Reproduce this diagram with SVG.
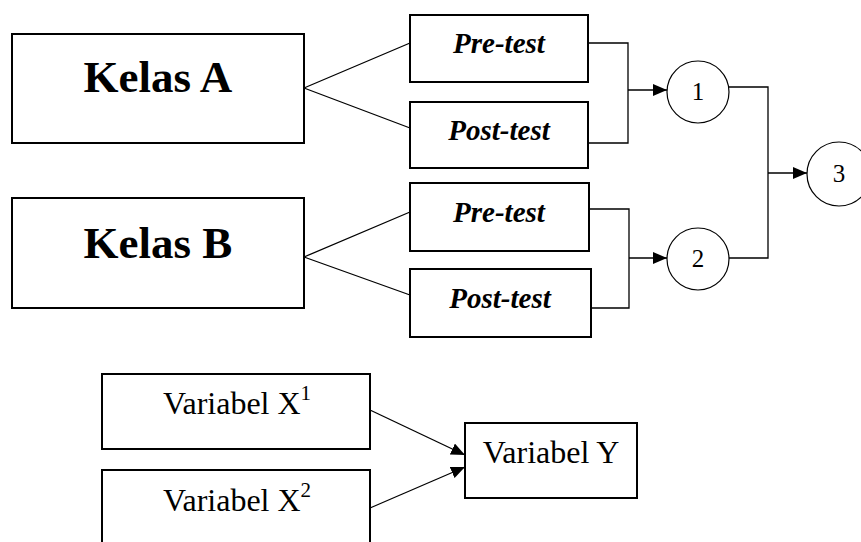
<svg xmlns="http://www.w3.org/2000/svg" width="861" height="542" viewBox="0 0 861 542">
<style>
.box{fill:#fff;stroke:#000;stroke-width:2}
.circ{fill:#fff;stroke:#000;stroke-width:1.2}
.ln{fill:none;stroke:#000;stroke-width:1.3}
.big{font-family:"Liberation Serif","Times New Roman",serif;font-weight:bold;font-size:45px;text-anchor:middle}
.bi{font-family:"Liberation Serif","Times New Roman",serif;font-weight:bold;font-style:italic;font-size:29px;text-anchor:middle}
.reg{font-family:"Liberation Serif","Times New Roman",serif;font-size:32px;text-anchor:middle}
.num{font-family:"Liberation Serif","Times New Roman",serif;font-size:25px;text-anchor:middle}
</style>
<defs>
<marker id="arr" markerWidth="14" markerHeight="12" refX="14" refY="6" orient="auto" markerUnits="userSpaceOnUse">
<path d="M0,0 L14,6 L0,12 Z" fill="#000"/>
</marker>
</defs>
<g id="connectors">
<path class="ln" d="M304,88 L410,43 M304,88 L410,128"/>
<path class="ln" d="M304,257 L410,212 M304,257 L410,295"/>
<path class="ln" d="M588,43 H628 V143 H588"/>
<path class="ln" d="M628,90 H667" marker-end="url(#arr)"/>
<path class="ln" d="M589,209 H629 V308 H591"/>
<path class="ln" d="M629,258 H667" marker-end="url(#arr)"/>
<path class="ln" d="M729,87 H768 V258 H729"/>
<path class="ln" d="M768,173 H807" marker-end="url(#arr)"/>
<path class="ln" d="M370,410 L465,455" marker-end="url(#arr)"/>
<path class="ln" d="M370,508 L465,467" marker-end="url(#arr)"/>
</g>
<g id="kelasA"><rect class="box" x="12" y="34" width="292" height="109"/><text class="big" x="158" y="92">Kelas A</text></g>
<g id="kelasB"><rect class="box" x="12" y="198" width="292" height="110"/><text class="big" x="158" y="258">Kelas B</text></g>
<g id="preA"><rect class="box" x="410" y="15" width="178" height="67"/><text class="bi" x="499" y="53">Pre-test</text></g>
<g id="postA"><rect class="box" x="410" y="102" width="178" height="66"/><text class="bi" x="499" y="140">Post-test</text></g>
<g id="preB"><rect class="box" x="410" y="183" width="179" height="68"/><text class="bi" x="499" y="222">Pre-test</text></g>
<g id="postB"><rect class="box" x="410" y="269" width="181" height="68"/><text class="bi" x="500" y="308">Post-test</text></g>
<g id="c1"><circle class="circ" cx="698" cy="92" r="31"/><text class="num" x="698" y="100">1</text></g>
<g id="c2"><circle class="circ" cx="698" cy="259" r="31"/><text class="num" x="698" y="267">2</text></g>
<g id="c3"><circle class="circ" cx="839" cy="174" r="32"/><text class="num" x="839" y="182">3</text></g>
<g id="x1"><rect class="box" x="102" y="374" width="268" height="75"/><text class="reg" x="237" y="414">Variabel X<tspan font-size="21" dy="-14">1</tspan></text></g>
<g id="x2"><rect class="box" x="102" y="470" width="268" height="76"/><text class="reg" x="237" y="511">Variabel X<tspan font-size="21" dy="-14">2</tspan></text></g>
<g id="y"><rect class="box" x="465" y="423" width="172" height="75"/><text class="reg" x="551" y="463">Variabel Y</text></g>
</svg>
